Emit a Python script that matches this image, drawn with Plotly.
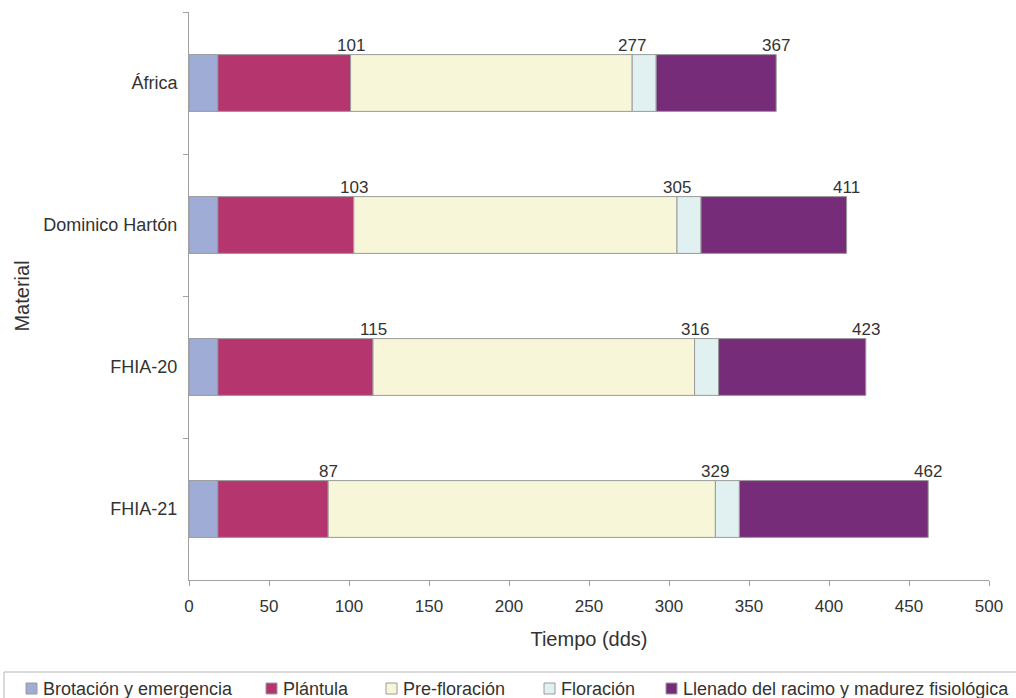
import plotly.graph_objects as go

# Materials (top to bottom)
categories = ["África", "Dominico Hartón", "FHIA-20", "FHIA-21"]

# Cumulative end of each phenological stage (dds)
brotacion_end = [18, 18, 18, 18]
plantula_end = [101, 103, 115, 87]
prefloracion_end = [277, 305, 316, 329]
floracion_end = [292, 320, 331, 344]
llenado_end = [367, 411, 423, 462]

stage_names = [
    "Brotación y emergencia",
    "Plántula",
    "Pre-floración",
    "Floración",
    "Llenado del racimo y madurez fisiológica",
]
stage_colors = ["#9fadd6", "#b5366f", "#f8f6d8", "#e1f1f1", "#772c7a"]

# Left edge (px) of each legend key in the bottom legend strip
legend_key_px = [26, 266, 386, 544, 666]

ends = [brotacion_end, plantula_end, prefloracion_end, floracion_end, llenado_end]
starts = [[0] * len(categories)] + ends[:-1]

W, H = 1016, 698
ML, MR, MT, MB = 189, 27, 12, 118
PW, PH = W - ML - MR, H - MT - MB

FONT = "Liberation Sans, Arial, sans-serif"
TEXT = "#333333"
EDGE = "#9a9a9a"


def px_x(px):
    return (px - ML) / PW


def px_y(py):
    return (H - MB - py) / PH


fig = go.Figure()
for name, color, s, e in zip(stage_names, stage_colors, starts, ends):
    fig.add_trace(
        go.Bar(
            y=categories,
            x=[b - a for a, b in zip(s, e)],
            base=s,
            orientation="h",
            name=name,
            marker=dict(color=color, line=dict(color=EDGE, width=1)),
            width=0.4,
            showlegend=False,
            hoverinfo="x+y+name",
        )
    )

# Value labels at the end of Plántula, Pre-floración and the full cycle
for series in (plantula_end, prefloracion_end, llenado_end):
    for cat, v in zip(categories, series):
        fig.add_annotation(
            x=v, y=cat, text=str(v), showarrow=False,
            yanchor="bottom", xanchor="center", yshift=26,
            font=dict(family=FONT, size=17, color=TEXT),
        )

# Bottom legend strip: frame, colour keys and names
shapes = [
    dict(type="rect", xref="paper", yref="paper",
         x0=px_x(4), x1=px_x(W + 5), y0=px_y(672), y1=px_y(H + 5),
         line=dict(color="#b5b5b5", width=1), fillcolor="white", layer="above"),
]
for name, color, kx in zip(stage_names, stage_colors, legend_key_px):
    shapes.append(dict(
        type="rect", xref="paper", yref="paper",
        x0=px_x(kx), x1=px_x(kx + 11), y0=px_y(694), y1=px_y(683),
        line=dict(color=EDGE, width=1), fillcolor=color, layer="above",
    ))
    fig.add_annotation(
        xref="paper", yref="paper", x=px_x(kx + 15), y=px_y(688.5),
        text=name, showarrow=False, xanchor="left", yanchor="middle",
        font=dict(family=FONT, size=18, color=TEXT),
    )

fig.update_layout(
    barmode="overlay",
    width=W, height=H,
    margin=dict(l=ML, r=MR, t=MT, b=MB),
    paper_bgcolor="white", plot_bgcolor="white",
    font=dict(family=FONT, size=17, color=TEXT),
    showlegend=False,
    shapes=shapes,
    xaxis=dict(
        range=[0, 500], dtick=50, tick0=0,
        showgrid=False, zeroline=False,
        showline=True, linecolor="#a0a0a0", linewidth=1,
        ticks="outside", ticklen=5, tickcolor="#a0a0a0",
        ticklabelstandoff=6,
        tickfont=dict(family=FONT, size=17, color=TEXT),
        title=dict(text="Tiempo (dds)", font=dict(family=FONT, size=20, color=TEXT), standoff=16),
    ),
    yaxis=dict(
        autorange="reversed",
        showgrid=False, zeroline=False,
        showline=True, linecolor="#a0a0a0", linewidth=1,
        ticks="outside", ticklen=5, tickcolor="#a0a0a0",
        tickson="boundaries",
        ticklabelstandoff=7,
        tickfont=dict(family=FONT, size=18, color=TEXT),
        title=dict(text="Material", font=dict(family=FONT, size=20, color=TEXT), standoff=8),
    ),
)

fig.write_html("out.html")
